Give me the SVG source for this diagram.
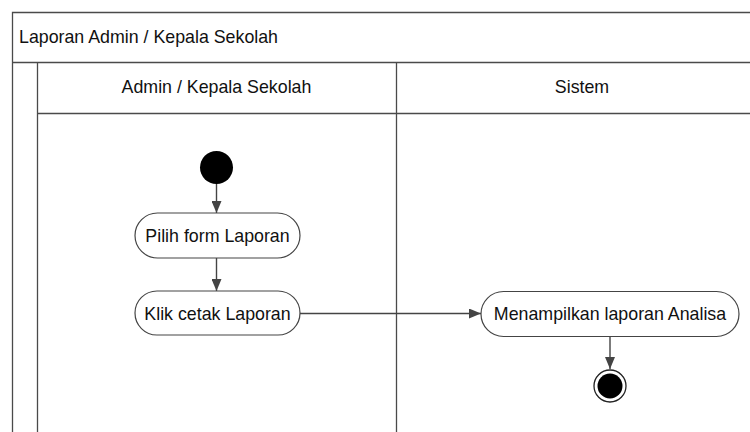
<svg xmlns="http://www.w3.org/2000/svg" width="750" height="432" viewBox="0 0 750 432">
  <style>
    .frame { fill: none; stroke: #4a4a4a; stroke-width: 1.3; }
    .label { font-family: "Liberation Sans", Arial, sans-serif; font-size: 17.8px; fill: #111; }
    .action { fill: #fff; stroke: #444; stroke-width: 1.2; }
    .flow { fill: none; stroke: #444; stroke-width: 1.4; }
  </style>
  <defs>
    <marker id="arrow" viewBox="0 0 12 10" refX="12" refY="5" markerWidth="12" markerHeight="10" markerUnits="userSpaceOnUse" orient="auto">
      <path d="M0,0 L12,5 L0,10 Z" fill="#444"/>
    </marker>
  </defs>
  <rect width="750" height="432" fill="#fff"/>

  <!-- swimlane frame -->
  <g id="pool">
    <path class="frame" d="M12.5,440 V12.5 H760 M12.5,62.5 H760 M37.5,62.5 V440 M37.5,113.5 H760 M396.5,62.5 V440"/>
    <text class="label" x="19" y="43">Laporan Admin / Kepala Sekolah</text>
    <text class="label" x="216.5" y="93" text-anchor="middle">Admin / Kepala Sekolah</text>
    <text class="label" x="582" y="93" text-anchor="middle">Sistem</text>
  </g>

  <!-- connectors -->
  <g id="connectors">
    <line class="flow" x1="216.5" y1="184" x2="216.5" y2="213" marker-end="url(#arrow)"/>
    <line class="flow" x1="216.5" y1="258" x2="216.5" y2="291" marker-end="url(#arrow)"/>
    <line class="flow" x1="300" y1="313.5" x2="481" y2="313.5" marker-end="url(#arrow)"/>
    <line class="flow" x1="610" y1="336" x2="610" y2="369" marker-end="url(#arrow)"/>
  </g>

  <g id="start">
    <circle cx="216.5" cy="167.5" r="16.5" fill="#000"/>
  </g>

  <g id="pilih-form">
    <rect class="action" x="135" y="213" width="165" height="45" rx="22.5"/>
    <text class="label" x="217.5" y="242" text-anchor="middle">Pilih form Laporan</text>
  </g>

  <g id="klik-cetak">
    <rect class="action" x="135" y="291" width="165" height="44" rx="22"/>
    <text class="label" x="217.5" y="320" text-anchor="middle">Klik cetak Laporan</text>
  </g>

  <g id="menampilkan">
    <rect class="action" x="481" y="291.5" width="258" height="45" rx="22.5"/>
    <text class="label" x="610" y="320" text-anchor="middle">Menampilkan laporan Analisa</text>
  </g>

  <g id="end">
    <circle cx="610" cy="386" r="16" fill="#fff" stroke="#222" stroke-width="1.3"/>
    <circle cx="610" cy="386" r="12.5" fill="#000"/>
  </g>
</svg>
